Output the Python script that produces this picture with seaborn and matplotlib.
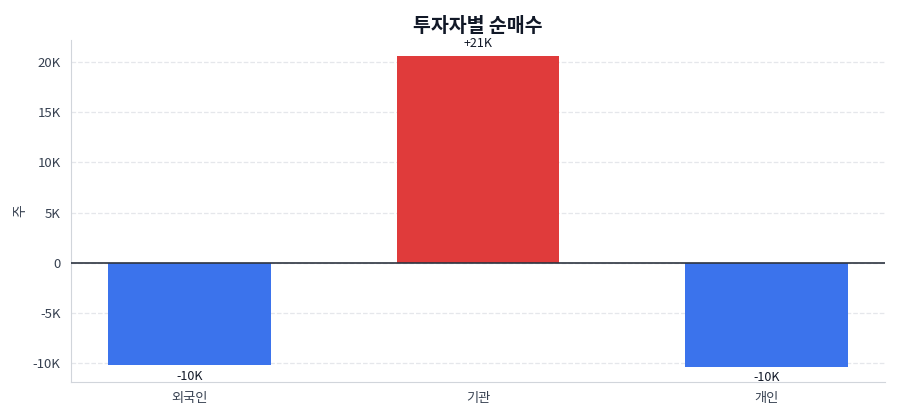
import numpy as np
import pandas as pd
import matplotlib
matplotlib.use('Agg')
import matplotlib.pyplot as plt
import seaborn as sns
from matplotlib.ticker import FuncFormatter

investors = ['외국인', '기관', '개인']
net_buy = [-10150, 20600, -10300]

BLUE = '#3b73ec'
RED = '#e03b3b'


def k_fmt(v, pos=None):
    if v == 0:
        return '0'
    return f'{v / 1000:.0f}K'


def label_fmt(v):
    s = f'{v / 1000:.0f}K'
    return '+' + s if v > 0 else s


if __name__ == "__main__":
    sns.set_style('white')
    plt.rcParams['font.family'] = ['Noto Sans CJK KR', 'DejaVu Sans']

    df = pd.DataFrame({'investor': investors, 'net': net_buy})
    colors = [RED if v > 0 else BLUE for v in net_buy]

    fig = plt.figure(figsize=(9, 4.2), dpi=100)
    ax = fig.add_axes([0.0789, 0.0905, 0.9044, 0.8143])
    sns.barplot(data=df, x='investor', y='net', hue='investor', palette=colors,
                width=0.563, legend=False, saturation=1, linewidth=0, ax=ax)

    ax.set_xlim(-0.41, 2.41)
    ax.set_ylim(-11840, 22190)
    ax.set_yticks([-10000, -5000, 0, 5000, 10000, 15000, 20000])
    ax.yaxis.set_major_formatter(FuncFormatter(k_fmt))
    ax.grid(axis='y', linestyle='--', color='#e5e7eb', linewidth=0.9)
    ax.set_axisbelow(True)
    ax.axhline(0, color='#2d3440', linewidth=1.2, zorder=3)

    for i, v in enumerate(net_buy):
        if v > 0:
            ax.annotate(label_fmt(v), (i, v), xytext=(0, 4), textcoords='offset points',
                        ha='center', va='bottom', fontsize=9, color='#111827')
        else:
            ax.annotate(label_fmt(v), (i, v), xytext=(0, -3.5), textcoords='offset points',
                        ha='center', va='top', fontsize=9, color='#111827')

    for side in ['top', 'right']:
        ax.spines[side].set_visible(False)
    for side in ['left', 'bottom']:
        ax.spines[side].set_color('#d1d5db')
    ax.tick_params(axis='both', colors='#374151', labelsize=9.5, length=4, width=1, direction='out')

    ax.set_xlabel('')
    ax.set_ylabel('주', fontsize=10, color='#374151')
    ax.set_title('투자자별 순매수', fontsize=14, fontweight='bold', color='#111827', pad=6)

    fig.savefig('out.png', dpi=100)
